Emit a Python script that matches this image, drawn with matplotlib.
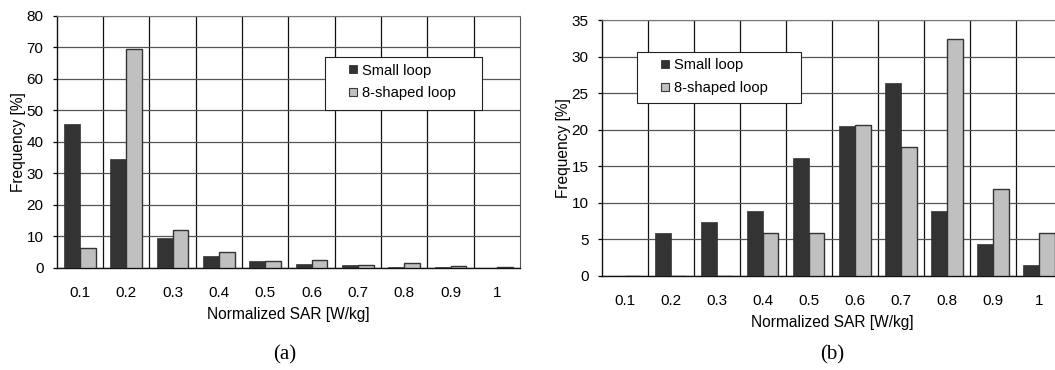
import matplotlib
matplotlib.use("Agg")
import matplotlib.pyplot as plt
from matplotlib.lines import Line2D
from matplotlib.patches import Rectangle, Shadow
import numpy as np

categories = ["0.1", "0.2", "0.3", "0.4", "0.5", "0.6", "0.7", "0.8", "0.9", "1"]

# panel (a)
small_a = [45.5, 34.5, 9.3, 3.6, 2.1, 1.1, 0.7, 0.2, 0.1, 0.0]
eight_a = [6.4, 69.3, 12.0, 5.0, 2.0, 2.5, 0.7, 1.4, 0.5, 0.3]
# panel (b)
small_b = [0.0, 5.8, 7.3, 8.8, 16.1, 20.5, 26.4, 8.8, 4.4, 1.4]
eight_b = [0.0, 0.0, 0.0, 5.9, 5.9, 20.6, 17.6, 32.4, 11.8, 5.9]

series_labels = ["Small loop", "8-shaped loop"]
xlabel = "Normalized SAR [W/kg]"
ylabel = "Frequency [%]"
captions = ["(a)", "(b)"]

plt.rcParams['font.family'] = ['Liberation Sans', 'DejaVu Sans']

W, H = 1055, 370
fig = plt.figure(figsize=(W / 100, H / 100), dpi=100)


def px_rect(x0, y0, x1, y1):
    return [x0 / W, 1 - y1 / H, (x1 - x0) / W, (y1 - y0) / H]


ax_a = fig.add_axes(px_rect(56.7, 15.7, 520, 267.7))
ax_b = fig.add_axes(px_rect(601.7, 20, 1062, 275.7))

dark = "#333333"
light = "#c0c0c0"
bw = 0.34
FS_TICK = 11
FS_LAB = 11.2
FS_LEG = 10.6


def draw(ax, s, e, ymax, ystep, box_px, caption, cap_xy):
    x = np.arange(len(categories))
    ax.bar(x - bw / 2, s, width=bw, color=dark, edgecolor=dark, linewidth=0.5,
           label=series_labels[0], zorder=3)
    ax.bar(x + bw / 2, e, width=bw, color=light, edgecolor="#333333", linewidth=1.0,
           label=series_labels[1], zorder=3)
    ax.set_xlim(-0.5, len(categories) - 0.5)
    ax.set_ylim(0, ymax)
    ax.set_yticks(np.arange(0, ymax + 0.1, ystep))
    ax.set_xticks(x)
    ax.set_xticklabels(categories)
    ax.set_xticks(np.arange(0.5, len(categories) - 0.5, 1.0), minor=True)
    ax.grid(axis='y', which='major', color='#555555', linewidth=0.9, zorder=0)
    ax.grid(axis='x', which='minor', color='#111111', linewidth=0.9, zorder=0)
    ax.grid(axis='x', which='major', visible=False)
    ax.set_axisbelow(True)
    ax.tick_params(axis='x', which='both', length=0, pad=13, labelsize=FS_TICK)
    ax.tick_params(axis='y', which='major', length=3, direction='out', pad=6.5,
                   labelsize=FS_TICK, width=0.9)
    for side in ['left', 'bottom']:
        ax.spines[side].set_color('#111111')
        ax.spines[side].set_linewidth(1.0)
    ax.spines['top'].set_color('#777777')
    ax.spines['right'].set_color('#555555')
    ax.set_xlabel(xlabel, fontsize=FS_LAB, labelpad=5)
    ax.set_ylabel(ylabel, fontsize=FS_LAB, labelpad=0.5)

    # legend frame (pixel box: left, top, right, bottom)
    bl, bt, br, bb = box_px
    pos = ax.get_position()
    ax_x0, ax_x1 = pos.x0 * W, pos.x1 * W
    ax_ytop, ax_ybot = (1 - pos.y1) * H, (1 - pos.y0) * H

    def to_ax(px, py):
        return ((px - ax_x0) / (ax_x1 - ax_x0), (ax_ybot - py) / (ax_ybot - ax_ytop))

    fx0, fy0 = to_ax(bl, bb)
    fx1, fy1 = to_ax(br, bt)
    frame = Rectangle((fx0, fy0), fx1 - fx0, fy1 - fy0, transform=ax.transAxes,
                      facecolor='white', edgecolor='#222222', linewidth=0.8, zorder=6)
    shadow = Shadow(frame, 1.6, -1.6, facecolor='#333333', edgecolor='none',
                    alpha=1, zorder=5.9)
    ax.add_patch(shadow)
    ax.add_patch(frame)

    handles = [
        Line2D([], [], linestyle='none', marker='s', markersize=6,
               markerfacecolor=dark, markeredgecolor=dark, markeredgewidth=0.6),
        Line2D([], [], linestyle='none', marker='s', markersize=6,
               markerfacecolor=light, markeredgecolor='#3a3a3a', markeredgewidth=0.8),
    ]
    lx, ly = to_ax(bl + 24, bt + 6.5)
    leg = ax.legend(handles, series_labels, loc='upper left',
                    bbox_to_anchor=(lx, ly), fontsize=FS_LEG, frameon=False,
                    handlelength=0.6, handletextpad=0.3, labelspacing=0.58,
                    borderpad=0, borderaxespad=0)
    leg.set_zorder(7)
    fig.text(cap_xy[0] / W, 1 - cap_xy[1] / H, caption, ha='center', va='center',
             fontsize=15, family=['Liberation Serif', 'DejaVu Serif'])


draw(ax_a, small_a, eight_a, 80, 10, (325, 57, 482, 110), captions[0], (285, 355))
draw(ax_b, small_b, eight_b, 35, 5, (637, 52, 801, 103), captions[1], (832, 355))

fig.savefig("out.png", dpi=100)
